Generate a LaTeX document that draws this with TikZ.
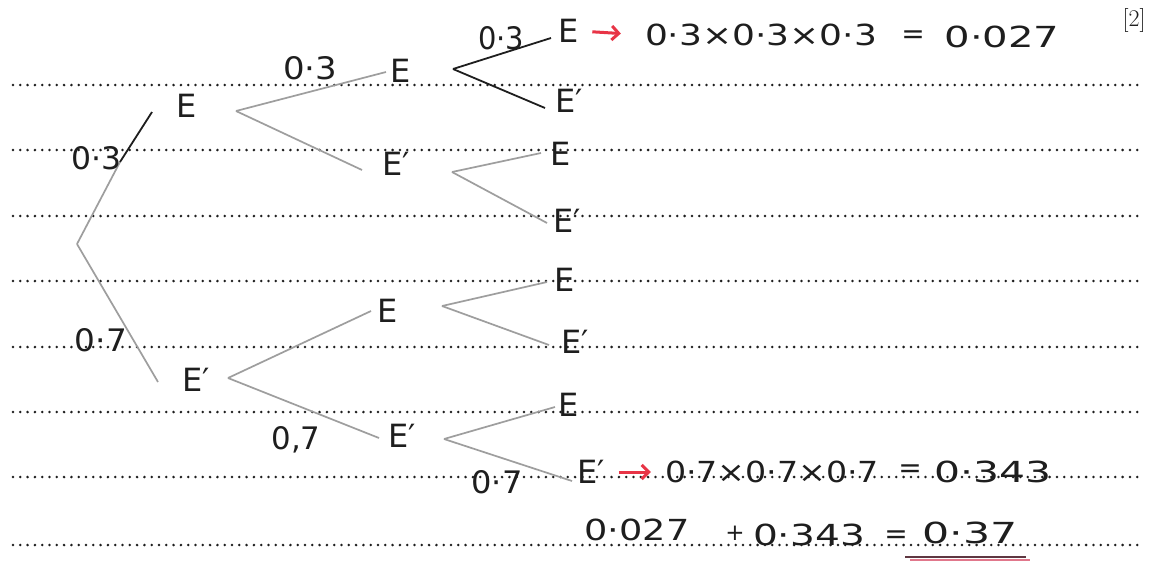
\documentclass[tikz,border=0pt]{standalone}
\usepackage{fontspec}
\usepackage{graphicx}
\usetikzlibrary{arrows.meta}
\newfontfamily\hand{DejaVu Sans}
\newcommand\hw[2]{\resizebox{#1}{\height}{#2}}
\definecolor{ink}{RGB}{30,30,30}
\definecolor{pencil}{RGB}{158,158,158}
\definecolor{redink}{RGB}{232,52,70}
\definecolor{ulink}{RGB}{95,55,65}
\definecolor{ulpink}{RGB}{225,120,140}
\begin{document}
\begin{tikzpicture}[x=1pt,y=-1pt,
  rule/.style={line width=2.8pt,line cap=round,dash pattern=on 0pt off 7.3pt,ink},
  grey/.style={line width=1.7pt,pencil},
  dark/.style={line width=1.8pt,ink},
  lab/.style={font=\hand\fontsize{32}{34}\selectfont,text=ink,inner sep=0pt},
  hnum/.style={font=\hand\fontsize{31}{34}\selectfont,text=ink,inner sep=0pt},
  tnum/.style={font=\hand\fontsize{29}{32}\selectfont,text=ink,inner sep=0pt},
  hsym/.style={font=\hand\fontsize{28}{30}\selectfont,text=ink,inner sep=0pt},
  smallsym/.style={font=\hand\fontsize{23}{26}\selectfont,text=ink,inner sep=0pt},
  redarrow/.style={line width=3pt,redink,-{Straight Barb[length=7pt,width=14pt]}},
  marklabel/.style={font=\fontsize{24}{28}\selectfont,text=ink,inner sep=0pt}]
\useasboundingbox (0,0) rectangle (1155,560);
\fill[white] (0,0) rectangle (1155,560);
% ruled dotted lines
\foreach \yy in {85,150,216,281,347,412,477,545}
  \draw[rule] (13,\yy) -- (1143,\yy);
% ---------- tree ----------
\coordinate (root) at (77,244);
\coordinate (rA) at (152,112);
\coordinate (rAmid) at (120,162);
\coordinate (rB) at (158,382);
\node[lab] (n1) at (187,106) {E};
\node[lab] (n2) at (196,380) {E′};
\draw[grey] (root) -- (rAmid);
\draw[dark] (rAmid) -- (rA);
\draw[grey] (root) -- (rB);
\node[hnum] (p1) at (97,158) {\hw{50pt}{0·3}};
\node[hnum] (p2) at (101,340) {\hw{52pt}{0·7}};
% level 2
\coordinate (f1) at (236,111);
\coordinate (f1a) at (386,72);
\coordinate (f1b) at (362,170);
\node[lab] (m1) at (401,71) {E};
\node[lab] (m2) at (396,164) {E′};
\draw[grey] (f1) -- (f1a);
\draw[grey] (f1) -- (f1b);
\node[hnum] (p3) at (310,68) {\hw{54pt}{0·3}};
\coordinate (f2) at (228,378);
\coordinate (f2a) at (371,311);
\coordinate (f2b) at (379,438);
\node[lab] (m3) at (388,311) {E};
\node[lab] (m4) at (402,436) {E′};
\draw[grey] (f2) -- (f2a);
\draw[grey] (f2) -- (f2b);
\node[hnum] (p4) at (296,440) {\hw{49pt}{0,7}};
% level 3
\coordinate (f3) at (453,69);
\coordinate (f3a) at (551,38);
\coordinate (f3b) at (545,108);
\node[lab] (l1) at (569,31) {E};
\node[lab] (l2) at (569,101) {E′};
\draw[dark] (f3) -- (f3a);
\draw[dark] (f3) -- (f3b);
\node[hnum] (p5) at (501,38) {\hw{46pt}{0·3}};
\coordinate (f4) at (452,172);
\coordinate (f4a) at (541,153);
\coordinate (f4b) at (547,223);
\node[lab] (l3) at (561,154) {E};
\node[lab] (l4) at (567,221) {E′};
\draw[grey] (f4) -- (f4a);
\draw[grey] (f4) -- (f4b);
\coordinate (f5) at (442,306);
\coordinate (f5a) at (547,282);
\coordinate (f5b) at (549,345);
\node[lab] (l5) at (565,280) {E};
\node[lab] (l6) at (575,342) {E′};
\draw[grey] (f5) -- (f5a);
\draw[grey] (f5) -- (f5b);
\coordinate (f6) at (444,439);
\coordinate (f6a) at (555,407);
\coordinate (f6b) at (572,481);
\node[lab] (l7) at (569,405) {E};
\node[lab] (l8) at (591,472) {E′};
\draw[grey] (f6) -- (f6a);
\draw[grey] (f6) -- (f6b);
\node[hnum] (p6) at (497,482) {\hw{51pt}{0·7}};
% ---------- working ----------
\node[tnum] (t1) at (761,35) {\hw{232pt}{0·3×0·3×0·3}};
\node[hsym] (eq1) at (913,37) {=};
\node[tnum] (t2) at (1002,37) {\hw{115pt}{0·027}};
\node[marklabel] (mk) at (1134,20) {[2]};
\draw[redarrow,shorten <=13pt,shorten >=24pt] (l1.east) -- (t1.west);
\node[tnum] (t3) at (772,472) {\hw{214pt}{0·7×0·7×0·7}};
\node[hsym] (eq2) at (910,471) {=};
\node[tnum] (t4) at (993,472) {\hw{117pt}{0·343}};
\draw[redarrow,shorten <=14pt,shorten >=14pt] (l8.east) -- (t3.west);
\node[tnum] (s1) at (637,530) {\hw{105pt}{0·027}};
\node[smallsym] (plus) at (735,533) {+};
\node[tnum] (s2) at (809,535) {\hw{112pt}{0·343}};
\node[hsym] (eq3) at (896,537) {=};
\node[tnum] (s3) at (970,533) {\hw{95pt}{0·37}};
\coordinate (u1) at (905,557);
\coordinate (u2) at (1026,557);
\coordinate (u3) at (910,560);
\coordinate (u4) at (1030,560);
\draw[line width=2pt,ulpink] (u3) -- (u4);
\draw[line width=2.4pt,ulink] (u1) -- (u2);
\end{tikzpicture}
\end{document}
